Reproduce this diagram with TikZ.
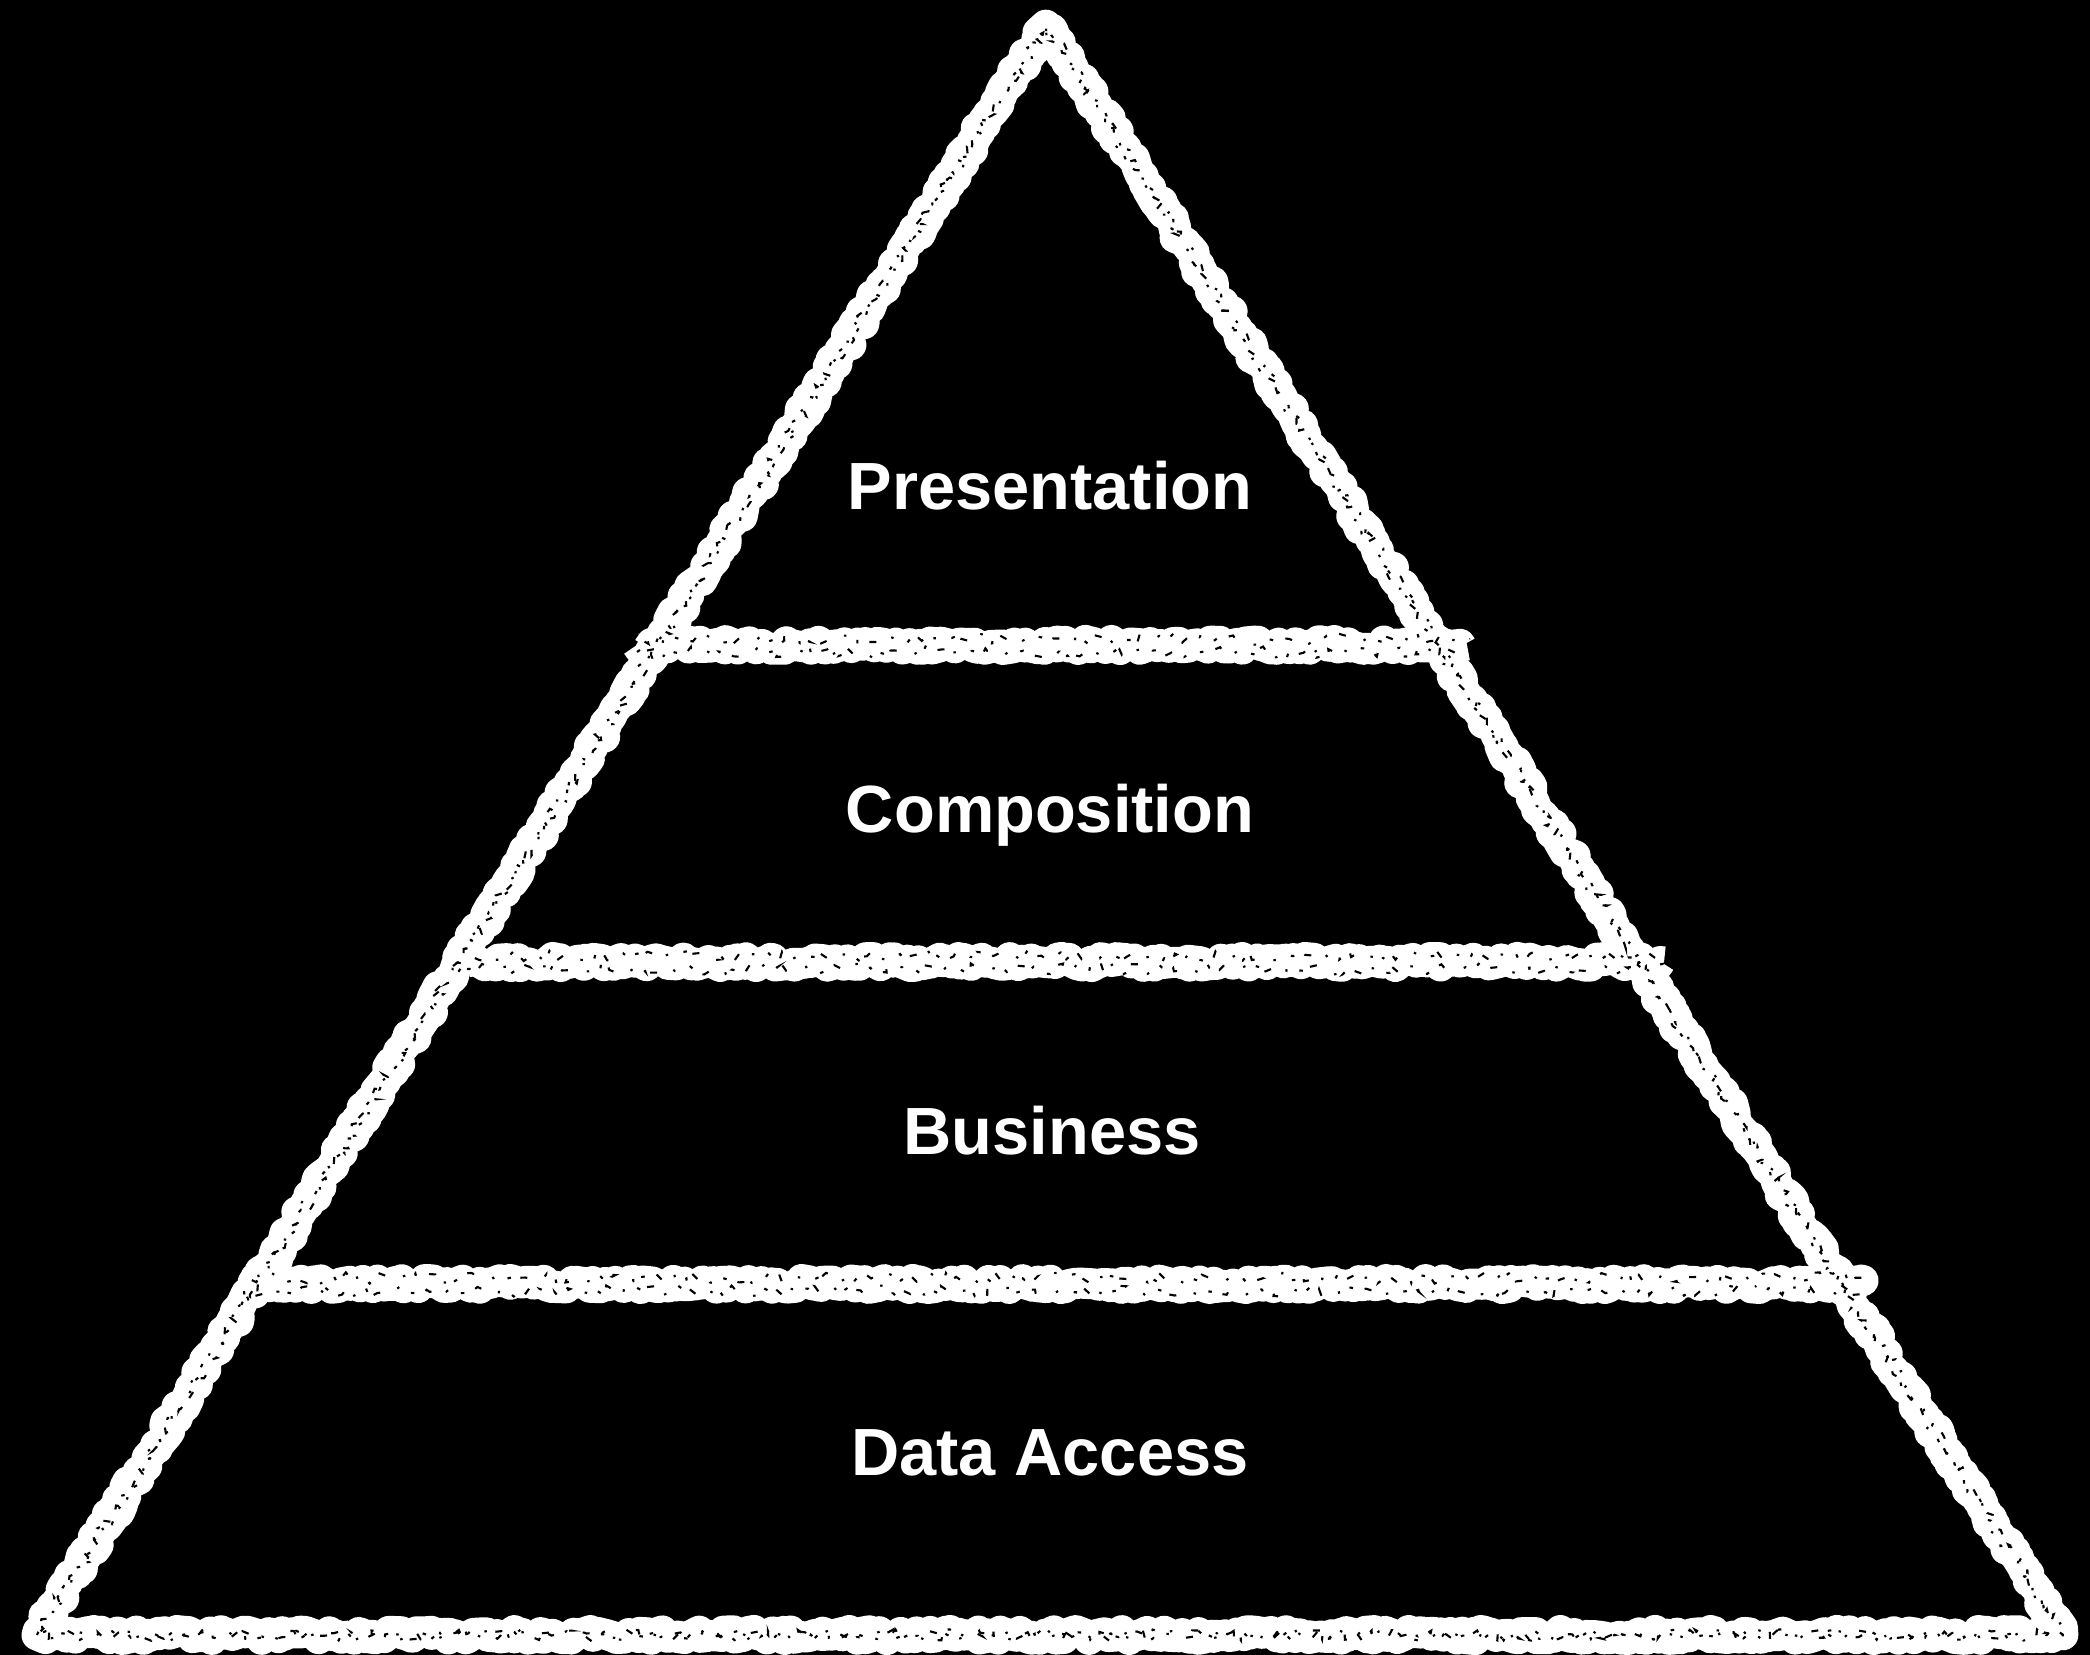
\documentclass[tikz,border=0pt]{standalone}
\usepackage{fontspec}
\setmainfont{Liberation Sans}
\usetikzlibrary{decorations.pathmorphing}
\begin{document}
\begin{tikzpicture}[chalk/.style={draw=white,line width=0.31cm,line join=round,decorate,decoration={random steps,segment length=1.2pt,amplitude=1.3pt}},
    grain/.style={draw=black,line width=0.6pt,dash pattern=on 1pt off 3.5pt on 2pt off 6pt on 0.7pt off 4.5pt,decorate,decoration={random steps,segment length=1.5pt,amplitude=1.6pt}},
    layer/.style={text=white,anchor=base,font=\fontsize{19}{22}\selectfont\bfseries}]
    \pgfmathsetseed{7}
    \def\w{20.9} \def\h{16.55} % khung
    \useasboundingbox (0,0) rectangle (\w,\h);
    \fill[black] (0,0) rectangle (\w,\h);
    \coordinate (top) at (10.46,16.30);
    \coordinate (bl) at (0.37,0.20);
    \coordinate (br) at (20.63,0.20);
    \draw[chalk,line cap=round] (bl)--(top)--(br)--cycle;
    \draw[chalk] (6.37,10.10)--(14.67,10.10);
    \draw[chalk] (4.67,6.93)--(16.64,6.93);
    \draw[chalk] (2.44,3.71)--(18.66,3.71);
    % vet phan
    \begin{scope}[yshift=-0.07cm]
        \draw[grain] (bl)--(top)--(br)--cycle;
        \draw[grain] (6.37,10.10)--(14.67,10.10);
        \draw[grain] (4.67,6.93)--(16.64,6.93);
        \draw[grain] (2.44,3.71)--(18.66,3.71);
    \end{scope}
    \begin{scope}[yshift=0.06cm,xshift=0.03cm]
        \draw[grain,dash phase=3pt] (bl)--(top)--(br)--cycle;
        \draw[grain,dash phase=3pt] (6.37,10.10)--(14.67,10.10);
        \draw[grain,dash phase=3pt] (4.67,6.93)--(16.64,6.93);
        \draw[grain,dash phase=3pt] (2.44,3.71)--(18.66,3.71);
    \end{scope}
    \node[layer] (presentation) at (10.50,11.45) {Presentation};
    \node[layer] (composition) at (10.50,8.22) {Composition};
    \node[layer] (business) at (10.52,5.00) {Business};
    \node[layer] (dataaccess) at (10.50,1.79) {Data Access};
\end{tikzpicture}
\end{document}
